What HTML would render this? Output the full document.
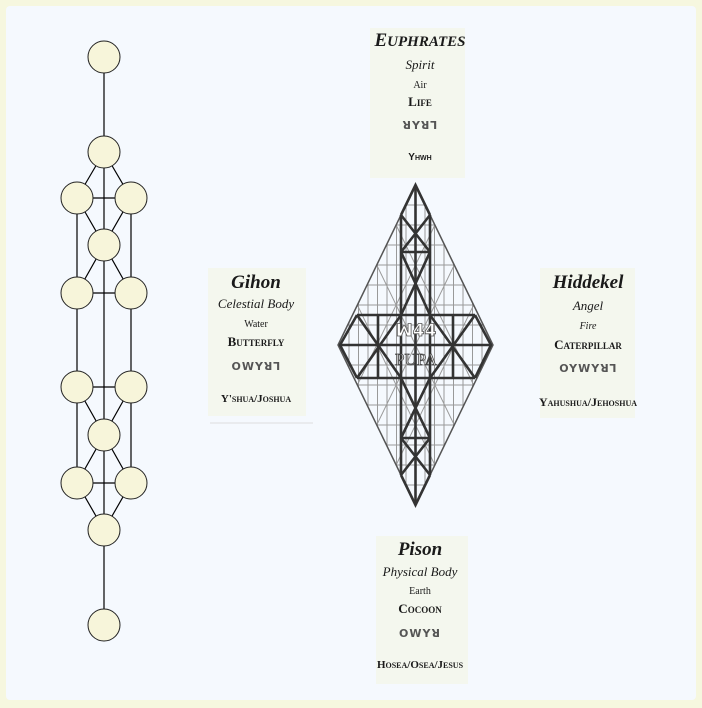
<!DOCTYPE html>
<html><head><meta charset="utf-8"><style>
html,body{margin:0;padding:0;width:702px;height:708px;overflow:hidden;background:#f6f7df;position:relative}
.in{position:absolute;left:6px;top:6px;width:690px;height:694px;background:#f5f9fe;border-radius:4px}
.t{position:absolute;transform:translateX(-50%);white-space:nowrap;color:#1a1a1a;font-family:"Liberation Serif",serif;text-align:center;line-height:1.15}
.h{font-weight:bold;font-style:italic;font-size:19px}
.sc{font-variant:small-caps;font-weight:bold;font-size:13px}
.it{font-style:italic;font-size:13px}
.sm{font-size:10px}
.gl{font-family:"DejaVu Sans",sans-serif;font-weight:bold;font-size:11px;color:#555;letter-spacing:1px}
.bg{position:absolute;background:#f5f4dc;opacity:.45}
</style></head><body>
<div class="in"></div>
<div class="bg" style="left:370px;top:28px;width:95px;height:150px"></div>
<div class="bg" style="left:208px;top:268px;width:98px;height:148px"></div>
<div class="bg" style="left:540px;top:268px;width:95px;height:150px"></div>
<div class="bg" style="left:376px;top:536px;width:92px;height:148px"></div>
<svg style="position:absolute;left:0;top:0" width="702" height="708">
<defs><clipPath id="d"><polygon points="415.5,185 493,345 415.5,505 338,345"/></clipPath></defs>
<g stroke="#000" stroke-width="1.2" fill="none">
<line x1="104" y1="57" x2="104" y2="625"/>
<line x1="77" y1="198" x2="77" y2="483"/><line x1="131" y1="198" x2="131" y2="483"/>
<line x1="77" y1="198" x2="131" y2="198"/><line x1="77" y1="293" x2="131" y2="293"/>
<line x1="77" y1="387" x2="131" y2="387"/><line x1="77" y1="483" x2="131" y2="483"/>
<polyline points="77,198 104,152 131,198"/><polyline points="77,198 104,245 131,198"/>
<polyline points="77,293 104,245 131,293"/><polyline points="77,387 104,435 131,387"/>
<polyline points="77,483 104,435 131,483"/><polyline points="77,483 104,530 131,483"/>
</g>
<g fill="#f7f5da" stroke="#222" stroke-width="1">
<circle cx="104" cy="57" r="16"/><circle cx="104" cy="152" r="16"/><circle cx="77" cy="198" r="16"/><circle cx="131" cy="198" r="16"/>
<circle cx="104" cy="245" r="16"/><circle cx="77" cy="293" r="16"/><circle cx="131" cy="293" r="16"/>
<circle cx="77" cy="387" r="16"/><circle cx="131" cy="387" r="16"/><circle cx="104" cy="435" r="16"/>
<circle cx="77" cy="483" r="16"/><circle cx="131" cy="483" r="16"/><circle cx="104" cy="530" r="16"/><circle cx="104" cy="625" r="16"/>
</g>
<g clip-path="url(#d)" stroke="#999" stroke-width="1" fill="none">
<path d="M349 180V510M358.5 180V510M368 180V510M377.5 180V510M387 180V510M396.5 180V510M406 180V510M425 180V510M434.5 180V510M444 180V510M453.5 180V510M463 180V510M472.5 180V510M482 180V510"/>
<path d="M330 205H500M330 225H500M330 245H500M330 265H500M330 285H500M330 305H500M330 325H500M330 365H500M330 385H500M330 405H500M330 425H500M330 445H500M330 465H500M330 485H500"/>
<path d="M260.5 -135L570.5 505M260.5 -55L570.5 585M260.5 25L570.5 665M260.5 105L570.5 745M260.5 185L570.5 825"/>
<path d="M570.5 -135L260.5 505M570.5 -55L260.5 585M570.5 25L260.5 665M570.5 105L260.5 745M570.5 185L260.5 825"/>
</g>
<polygon points="415.5,185 493,345 415.5,505 338,345" fill="none" stroke="#555" stroke-width="1.5"/>
<g stroke="#333" stroke-width="2.6" fill="none">
<line x1="415.5" y1="185" x2="415.5" y2="505"/>
<line x1="401" y1="215" x2="401" y2="475"/><line x1="430" y1="215" x2="430" y2="475"/>
<polyline points="401,215 415.5,185 430,215"/><polyline points="401,475 415.5,505 430,475"/>
<line x1="401" y1="252" x2="430" y2="252"/><line x1="401" y1="438" x2="430" y2="438"/>
<path d="M401 215L430 252M430 215L401 252M401 252L430 315M430 252L401 315M401 378L430 438M430 378L401 438M401 438L430 475M430 438L401 475"/>
<line x1="357" y1="315" x2="475" y2="315"/><line x1="357" y1="378" x2="475" y2="378"/>
<line x1="340" y1="345" x2="491" y2="345"/>
<path d="M357 315L340 345L357 378M475 315L491 345L475 378"/>
<path d="M357 315L401 378M401 315L357 378M378 315V378M430 315L475 378M475 315L430 378M453 315V378"/>
</g>
<text x="416" y="336" font-family="DejaVu Sans" font-size="17" font-weight="bold" fill="#fff" stroke="#555" stroke-width="0.8" text-anchor="middle">ꟽ44</text>
<text x="416" y="365" font-family="Liberation Serif" font-size="17" fill="#fff" stroke="#444" stroke-width="0.8" text-anchor="middle">PUPA</text>
<line x1="210" y1="423" x2="313" y2="423" stroke="#ddd"/>
</svg>
<div class="t h" style="left:420px;top:30px">E<span style="font-size:15px">UPHRATES</span></div>
<div class="t it" style="left:420px;top:58px">Spirit</div>
<div class="t sm" style="left:420px;top:80px">Air</div>
<div class="t sc" style="left:420px;top:95px">Life</div>
<div class="t gl" style="left:420px;top:120px">ꓤYꓤꓶ</div>
<div class="t sc" style="left:420px;top:152px;font-family:'Liberation Sans',sans-serif;font-size:10px">Yhwh</div>

<div class="t h" style="left:256px;top:272px">Gihon</div>
<div class="t it" style="left:256px;top:297px">Celestial Body</div>
<div class="t sm" style="left:256px;top:319px">Water</div>
<div class="t sc" style="left:256px;top:335px">Butterfly</div>
<div class="t gl" style="left:256px;top:361px">OWYꓤꓶ</div>
<div class="t sc" style="left:256px;top:393px;font-size:11px">Y'shua/Joshua</div>

<div class="t h" style="left:588px;top:272px">Hiddekel</div>
<div class="t it" style="left:588px;top:299px">Angel</div>
<div class="t it sm" style="left:588px;top:321px">Fire</div>
<div class="t sc" style="left:588px;top:338px">Caterpillar</div>
<div class="t gl" style="left:588px;top:363px">OYWYꓤꓶ</div>
<div class="t sc" style="left:588px;top:396px;font-size:12px">Yahushua/Jehoshua</div>

<div class="t h" style="left:420px;top:539px">Pison</div>
<div class="t it" style="left:420px;top:565px">Physical Body</div>
<div class="t sm" style="left:420px;top:586px">Earth</div>
<div class="t sc" style="left:420px;top:602px">Cocoon</div>
<div class="t gl" style="left:420px;top:628px">OWYꓤ</div>
<div class="t sc" style="left:420px;top:659px;font-size:11px">Hosea/Osea/Jesus</div>
</body></html>
